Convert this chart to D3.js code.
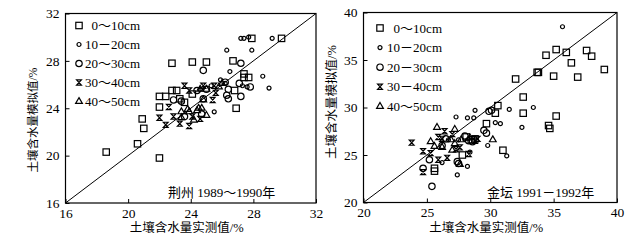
<!DOCTYPE html>
<html lang="zh">
<head>
<meta charset="UTF-8">
<title>土壤含水量模拟值与实测值</title>
<script src="https://cdn.jsdelivr.net/npm/d3@7"></script>
<style>
  body{margin:0;background:#fff;}
  svg{display:block;}
  text{font-family:"Liberation Serif","Noto Sans CJK SC",serif;fill:#000;}
  .axis .domain{display:none;}
  .axis line{stroke:#000;stroke-width:1;}
</style>
</head>
<body>
<svg width="640" height="248"></svg>
<script>
// 图例文字
var labelsJZ = ['0～10cm', '10－20cm', '20～30cm', '30～40cm', '40～50cm'];
var labelsJT = ['0～10cm', '10－20cm', '20－30cm', '30－40cm', '40～50cm'];
var ticksJZ = [16, 20, 24, 28, 32];
var ticksJT = [20, 25, 30, 35, 40];

// 荆州 1989~1990年  [实测值, 模拟值]
var jz0_10 = [[18.6,20.3],[20.6,21.0],[20.9,23.1],[21.0,22.3],[22.0,19.8],[22.0,24.1],[22.0,25.0],[22.4,25.0],
  [22.8,27.8],[22.8,25.5],[23.1,25.5],[23.3,24.8],[23.6,24.5],[24.1,25.2],[24.1,27.9],[25.0,27.9],[26.7,28.0],
  [26.8,25.5],[26.9,24.0],[27.4,26.9],[27.4,26.6],[27.7,26.6],[27.9,29.9],[29.8,29.9]];
var jz10_20 = [[26.3,28.9],[27.9,28.9],[29.2,29.9],[27.2,29.9],[27.4,29.9],[27.7,30.0],[26.5,27.1],[28.6,26.7],
  [29.0,25.7],[27.3,25.9],[27.6,25.8],[25.5,23.7],[25.3,25.9],[24.6,25.6],[26.2,26.1],[25.9,26.4]];
var jz20_30 = [[24.8,27.2],[27.2,27.8],[27.2,25.0],[27.1,26.1],[27.8,25.8],[26.4,24.8],[26.3,25.1],[26.4,25.6],
  [26.2,26.2],[22.9,24.7],[23.4,24.6],[24.8,24.8],[25.0,25.6],[24.4,25.5],[23.6,23.3],[24.7,23.5]];
var jz30_40 = [[23.6,25.9],[24.8,25.9],[25.5,25.9],[25.4,24.7],[22.6,24.1],[22.0,23.2],[22.9,23.3],[23.3,22.7],
  [23.9,22.5],[24.6,23.1],[24.1,23.3],[25.6,25.3],[23.9,25.5],[22.4,22.6]];
var jz40_50 = [[24.4,23.8],[23.9,23.7],[23.4,23.7],[24.8,24.7],[25.0,23.4],[24.7,24.0],[23.4,23.2],[24.5,24.0],
  [24.6,25.6],[25.0,25.6],[25.8,25.8],[26.0,26.1],[23.8,23.9],[24.2,23.0]];

// 金坛 1991~1992年  [实测值, 模拟值]
var jt0_10 = [[25.6,23.6],[25.6,23.3],[29.7,28.3],[30.4,29.4],[30.6,30.2],[31.0,25.5],[32.0,33.0],[32.6,31.1],
  [32.6,29.4],[33.7,33.7],[33.8,33.7],[34.4,35.5],[35.0,33.3],[35.2,36.1],[35.2,29.1],[34.6,28.1],[34.7,27.8],
  [36.0,35.8],[36.4,34.7],[36.9,33.2],[37.6,36.0],[38.0,35.4],[39.0,34.0],[28.1,26.9],[28.5,26.6],[27.8,25.0],[28.8,26.7]];
var jt10_20 = [[35.7,38.5],[33.4,30.0],[31.5,29.8],[32.5,27.9],[31.3,24.9],[30.8,28.3],[30.4,28.4],[29.8,26.0],
  [28.8,29.7],[28.7,28.9],[28.2,28.9],[27.3,29.0],[27.4,22.9],[28.2,23.8],[28.4,25.3],[26.2,24.2],[27.5,26.6],[26.7,26.6]];
var jt20_30 = [[25.4,21.7],[24.7,23.6],[25.2,24.5],[29.5,27.6],[29.7,27.3],[30.1,29.7],[29.9,29.6],[27.4,24.3],
  [27.5,24.1],[28.3,26.5],[28.6,26.4],[26.5,26.7],[26.2,26.0],[28.0,27.0]];
var jt30_40 = [[23.8,26.3],[24.7,25.4],[25.3,25.2],[25.9,24.5],[26.6,24.7],[24.7,23.2],[26.4,27.5],[27.0,27.2],
  [27.6,25.8],[28.3,25.1],[29.0,26.7],[26.2,26.7],[25.9,26.9],[27.3,25.6],[28.8,26.5]];
var jt40_50 = [[25.8,27.9],[27.2,27.7],[25.3,26.4],[25.6,25.9],[27.0,25.5],[27.6,24.0],[30.2,26.6],[27.7,26.6],
  [27.2,26.2],[26.2,25.8],[26.9,26.6],[28.4,26.8]];

var markTypes = ['sq', 'dot', 'o', 'x', 'tri'];

var svg = d3.select('svg');

// 画一个标记
function addMark(sel, type) {
  if (type === 'sq') {
    sel.append('rect').attr('x', -3.2).attr('y', -3.2).attr('width', 6.4).attr('height', 6.4);
  } else if (type === 'dot') {
    sel.append('circle').attr('r', 2);
  } else if (type === 'o') {
    sel.append('circle').attr('r', 3.2);
  } else if (type === 'x') {
    sel.append('path').attr('d', 'M-2.4,-2.6H2.4L-2.4,2.6H2.4Z');
  } else {
    sel.append('path').attr('d', d3.symbol(d3.symbolTriangle, 20)());
  }
}

function drawPanel(p) {
  var x = d3.scaleLinear().domain(p.domain).range([p.left, p.right]);
  var y = d3.scaleLinear().domain(p.domain).range([p.bottom, p.top]);
  var g = svg.append('g');

  // 坐标轴 (刻度向内)
  g.append('g').attr('class', 'axis')
    .attr('transform', 'translate(0,' + p.bottom + ')')
    .call(d3.axisBottom(x).tickValues(p.ticks).tickSize(-4).tickPadding(5))
    .selectAll('text').attr('font-size', 13.5);
  g.append('g').attr('class', 'axis')
    .attr('transform', 'translate(' + p.left + ',0)')
    .call(d3.axisLeft(y).tickValues(p.ticks).tickSize(-4).tickPadding(6))
    .selectAll('text').attr('font-size', 13.5);
  g.selectAll('.axis text').attr('font-family', '"Liberation Serif",serif');

  // 边框
  g.append('rect')
    .attr('x', p.left).attr('y', p.top)
    .attr('width', p.right - p.left).attr('height', p.bottom - p.top)
    .attr('fill', 'none').attr('stroke', '#000').attr('stroke-width', 1.2);

  // 1:1 线
  g.append('line')
    .attr('x1', x(p.domain[0])).attr('y1', y(p.domain[0]))
    .attr('x2', x(p.domain[1])).attr('y2', y(p.domain[1]))
    .attr('stroke', '#000').attr('stroke-width', 1);

  // 散点
  p.series.forEach(function(s, i) {
    g.append('g').selectAll('g')
      .data(s)
      .enter().append('g')
      .attr('transform', function(d) { return 'translate(' + x(d[0]) + ',' + y(d[1]) + ')'; })
      .attr('fill', 'none').attr('stroke', '#000').attr('stroke-width', 1.2)
      .each(function() { addMark(d3.select(this), markTypes[i]); });
  });

  // 图例
  var legend = g.append('g').selectAll('g')
    .data(p.labels)
    .enter().append('g')
    .attr('transform', function(d, i) { return 'translate(0,' + (p.legendY + i * p.legendStep) + ')'; });
  legend.append('g')
    .attr('transform', 'translate(' + p.legendMarkX + ',0)')
    .attr('fill', 'none').attr('stroke', '#000').attr('stroke-width', 1.2)
    .each(function(d, i) { addMark(d3.select(this), markTypes[i]); });
  legend.append('text')
    .attr('x', p.legendTextX)
    .attr('dy', '0.35em')
    .attr('text-anchor', 'end')
    .attr('font-size', 13)
    .text(function(d) { return d; });

  // 地点注释
  g.append('text')
    .attr('x', p.noteX).attr('y', 197)
    .attr('font-size', 13)
    .text(p.note);

  // 坐标轴标题
  g.append('text')
    .attr('x', (p.left + p.right) / 2 - 4).attr('y', 232)
    .attr('text-anchor', 'middle')
    .attr('font-size', 12.5)
    .text('土壤含水量实测值/%');
  g.append('text')
    .attr('transform', 'translate(' + p.yTitleX + ',' + p.yTitleY + ') rotate(-90)')
    .attr('text-anchor', 'middle')
    .attr('dy', '0.35em')
    .attr('font-size', p.yTitleSize)
    .text('土壤含水量模拟值/%');
}

drawPanel({
  domain: [16, 32], ticks: ticksJZ,
  left: 65.5, right: 316, top: 13.5, bottom: 203,
  series: [jz0_10, jz10_20, jz20_30, jz30_40, jz40_50],
  labels: labelsJZ,
  legendY: 25.5, legendStep: 19, legendMarkX: 79, legendTextX: 140,
  note: '荆州  1989～1990年', noteX: 168,
  yTitleX: 33, yTitleY: 120, yTitleSize: 11.5
});

drawPanel({
  domain: [20, 40], ticks: ticksJT,
  left: 363.5, right: 617, top: 12.5, bottom: 202.5,
  series: [jt0_10, jt10_20, jt20_30, jt30_40, jt40_50],
  labels: labelsJT,
  legendY: 28, legendStep: 19.6, legendMarkX: 380, legendTextX: 442,
  note: '金坛  1991－1992年', noteX: 487,
  yTitleX: 332, yTitleY: 102, yTitleSize: 12.5
});
</script>
</body>
</html>
